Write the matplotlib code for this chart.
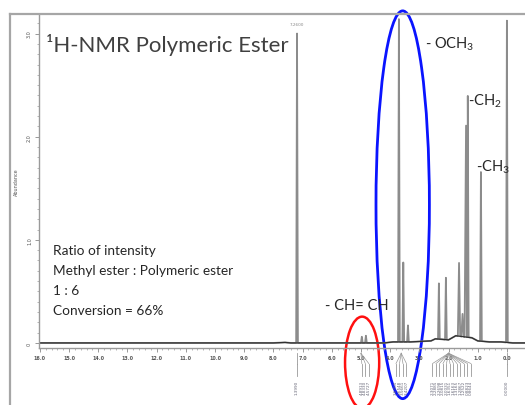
import numpy as np
import matplotlib
matplotlib.use("Agg")
import matplotlib.pyplot as plt
from matplotlib.patches import Ellipse

plt.rcParams['font.family'] = ['Lato', 'DejaVu Sans']
plt.rcParams['mathtext.fontset'] = 'custom'
plt.rcParams['mathtext.rm'] = 'Lato'
plt.rcParams['mathtext.it'] = 'Lato:italic'

# ---------------- data ----------------
# peak positions (ppm), heights (abundance) and half widths (ppm)
peak_ppm = [7.19, 4.97, 4.83, 3.70, 3.55, 3.39, 2.33, 2.09, 1.64, 1.52, 1.40, 1.34, 0.89, 0.00]
peak_height = [3.00, 0.06, 0.07, 3.13, 0.77, 0.16, 0.54, 0.60, 0.71, 0.22, 2.05, 2.34, 1.64, 3.12]
peak_width = [0.03, 0.03, 0.03, 0.03, 0.03, 0.03, 0.03, 0.03, 0.04, 0.04, 0.05, 0.03, 0.03, 0.03]
# baseline points (ppm, abundance)
base_ppm = [16.2, 8.0, 7.6, 7.4, 5.5, 4.2, 3.9, 3.3, 2.6, 2.45, 2.0, 1.75, 1.2, 1.0, 0.6, 0.2, -0.2, -0.7]
base_val = [0.0, 0.0, 0.005, 0.0, 0.0, 0.0, 0.01, 0.01, 0.02, 0.04, 0.03, 0.07, 0.05, 0.02, 0.01, 0.01, 0.0, 0.0]

x_ticks = [16.0, 15.0, 14.0, 13.0, 12.0, 11.0, 10.0, 9.0, 8.0, 7.0, 6.0, 5.0, 4.0, 3.0, 2.0, 1.0, 0.0]
y_ticks = [0, 1, 2, 3]
y_ticklabels = ['0', '1.0', '2.0', '3.0']

# integration groups: ppm position of label and values
integ_ppm = [7.19, 4.97, 4.85, 4.73, 3.80, 3.68, 3.56, 3.44,
             2.55, 2.43, 2.31, 2.19, 2.07, 1.95, 1.83, 1.71, 1.59, 1.47, 1.35, 1.23, 0.0]
integ_val = ['1.3990', '4.8913', '4.8330', '4.5727', '3.6765', '3.6548', '3.5661', '3.4207',
             '2.3071', '2.2885', '2.2698', '2.0815', '2.0031', '1.6351', '1.6163', '1.3165',
             '1.2867', '1.2522', '0.8823', '0.8644', '0.0000']

ratio_lines = ["Ratio of intensity", "Methyl ester : Polymeric ester", "1 : 6", "Conversion = 66%"]

# ---------------- build the spectrum line ----------------
pts = list(zip(base_ppm, base_val))
for p, h, w in zip(peak_ppm, peak_height, peak_width):
    b = np.interp(-p, [-v for v in base_ppm], base_val)
    pts += [(p + w, b), (p, h + b), (p - w, b)]
pts.sort(key=lambda t: -t[0])
spec_x = [t[0] for t in pts]
spec_y = [t[1] for t in pts]

# ---------------- figure ----------------
W, H = 525, 406
fig = plt.figure(figsize=(W / 100, H / 100), dpi=100)

def fx(x):
    return x / W

def fy(y):
    return 1 - y / H

ax = fig.add_axes([fx(39), fy(349), fx(525) - fx(39), fy(16) - fy(349)])
ax.plot(spec_x, spec_y, color='#8c8c8c', lw=1.3)
ax.plot(base_ppm, base_val, color='#303030', lw=0.9)
ax.set_xlim(16.03, -0.62)
ax.set_ylim(-0.049, 3.18)

for s in ['top', 'right']:
    ax.spines[s].set_visible(False)
for s in ['left', 'bottom']:
    ax.spines[s].set_color('#9a9a9a')
    ax.spines[s].set_linewidth(1.0)

ax.set_xticks(x_ticks)
ax.set_xticklabels(['%.1f' % v for v in x_ticks], fontsize=3.5, color='#555555',
                   family='DejaVu Sans', fontweight='bold')
ax.set_xticks(np.arange(0, 16.01, 0.2), minor=True)
ax.set_yticks(y_ticks)
ax.set_yticklabels(y_ticklabels, fontsize=3.5, color='#555555', rotation=90,
                   family='DejaVu Sans', va='center')
ax.set_yticks(np.arange(0, 3.15, 0.1), minor=True)
ax.tick_params(which='major', length=3, width=0.6, color='#888888', pad=2)
ax.tick_params(which='minor', length=1.5, width=0.5, color='#999999')
ax.set_ylabel('Abundance', fontsize=3.5, color='#555555', family='DejaVu Sans', labelpad=6)

# small peak label on the solvent peak
ax.text(7.19, 3.07, '7.2600', fontsize=3, color='#888888', ha='center', va='bottom',
        family='DejaVu Sans')

# integration marks below axis
for p, v in zip(integ_ppm, integ_val):
    ax.plot([p, p], [-0.2, -0.32], color='#999999', lw=0.6, clip_on=False)
    ax.text(p, -0.36, v, fontsize=3, color='#666677', rotation=90, ha='center', va='top',
            family='DejaVu Sans', clip_on=False)
for grp in [(5.0, [4.97, 4.85, 4.73]), (3.62, [3.80, 3.68, 3.56, 3.44]),
            (2.0, [2.55, 2.43, 2.31, 2.19, 2.07, 1.95, 1.83, 1.71, 1.59, 1.47, 1.35, 1.23])]:
    for q in grp[1]:
        ax.plot([grp[0], q], [-0.1, -0.2], color='#999999', lw=0.5, clip_on=False)
for p in [7.19, 0.0]:
    ax.plot([p, p], [-0.1, -0.2], color='#999999', lw=0.6, clip_on=False)

# ellipses
ax.add_patch(Ellipse((4.96, -0.19), 1.17, 0.89, fill=False, ec='#ff1010', lw=1.8, clip_on=False))
ax.add_patch(Ellipse((3.57, 1.34), 1.83, 3.76, fill=False, ec='#0a14ff', lw=2.0, clip_on=False))

# slide frame
fig.add_artist(plt.Line2D([fx(10), fx(10)], [fy(15), 0], color='#a6a6a6', lw=1.6))
fig.add_artist(plt.Line2D([fx(10), 1], [fy(15), fy(15)], color='#a6a6a6', lw=1.6))

# texts
fig.text(fx(46), fy(45), '¹H-NMR Polymeric Ester', fontsize=16, color='#404040', va='center')
fig.text(fx(425), fy(44), r'- OCH$_\mathrm{3}$', fontsize=10.5, color='#262626', va='center')
fig.text(fx(468), fy(101), r'-CH$_\mathrm{2}$', fontsize=10.5, color='#262626', va='center')
fig.text(fx(476), fy(167), r'-CH$_\mathrm{3}$', fontsize=10.5, color='#262626', va='center')
fig.text(fx(325), fy(306), '- CH= CH', fontsize=10.5, color='#262626', va='center')
for i, line in enumerate(ratio_lines):
    fig.text(fx(53), fy(251 + 20 * i), line, fontsize=9.8, color='#262626', va='center')

fig.savefig('out.png', dpi=100)
